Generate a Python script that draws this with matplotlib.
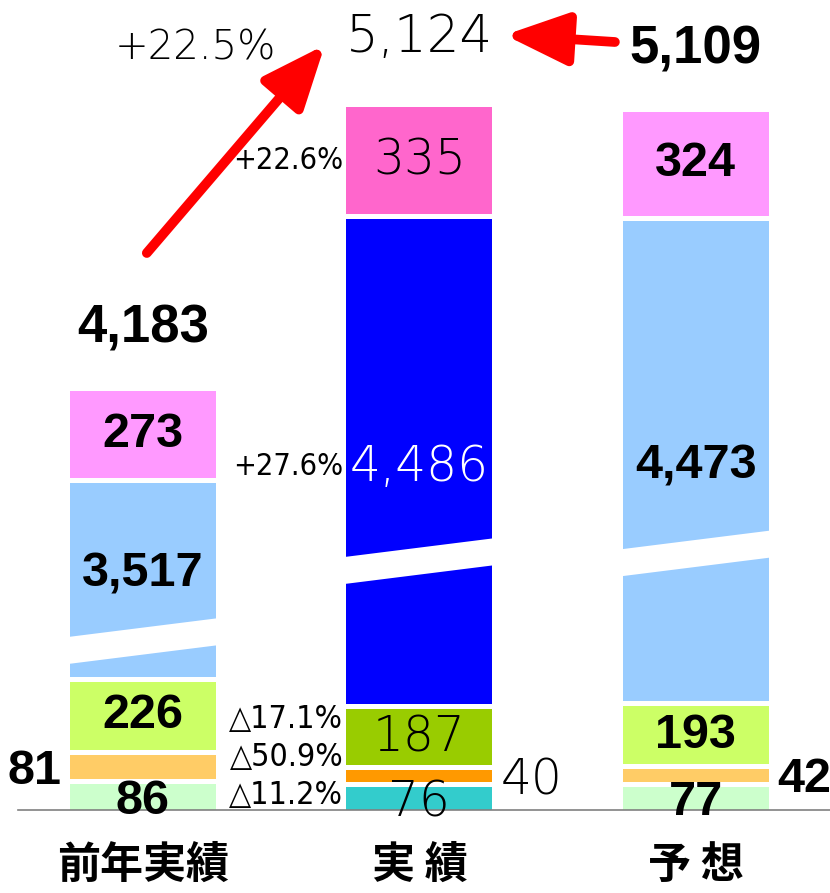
import matplotlib.pyplot as plt

# data
categories = ["前年実績", "実 績", "予 想"]
prev = [86, 81, 226, 3517, 273]
actual = [76, 40, 187, 4486, 335]
forecast = [77, 42, 193, 4473, 324]
totals = ["4,183", "5,124", "5,109"]
total_growth = "+22.5%"
seg_growth = ["△11.2%", "△50.9%", "△17.1%", "+27.6%", "+22.6%"]

colors_light = ["#CCFFCC", "#FFCC66", "#CCFF66", "#99CCFF", "#FF99FF"]
colors_actual = ["#33CCCC", "#FF9900", "#99CC00", "#0000FF", "#FF66CC"]

K = 0.3      # px per unit
K_TOP = 0.32
CUT = 2870   # hidden part of the broken segment
GAP = 5
W = 0.528

fig = plt.figure(figsize=(8.3, 8.93), dpi=100)
ax = fig.add_axes([0, 0, 1, 1])
ax.set_xlim(-0.517, 2.485)
ax.set_ylim(-83, 810)
ax.axis("off")

bold = dict(family=["Liberation Sans", "DejaVu Sans"], weight="bold", color="black")
thin = dict(family=["DejaVu Sans"], weight="light", color="black")
narrow = dict(family=["DejaVu Sans"], stretch="condensed", color="black")

brk_off = [36, 143, 148]
big_pos = [0.53, 0.49, 0.49]
tops = []
seg_centers = []
for i, vals in enumerate([prev, actual, forecast]):
    cols = colors_actual if i == 1 else colors_light
    bottom = 0
    centers = []
    for j, v in enumerate(vals):
        if j == 3:
            h = (v - CUT) * K
        elif j == 4:
            h = v * K_TOP
        else:
            h = v * K
        ax.bar(i, h, bottom=bottom, width=W, color=cols[j], zorder=2)
        if j == 3:
            yb = bottom + brk_off[i]
            xl, xr = i - W / 2 - 0.01, i + W / 2 + 0.01
            ax.fill([xl, xr, xr, xl], [yb - 23, yb - 4, yb + 23, yb + 4],
                    color="white", zorder=3, lw=0)
            centers.append(bottom + h * big_pos[i])
        else:
            centers.append(bottom + h / 2)
        bottom += h + GAP
    tops.append(bottom - GAP)
    seg_centers.append(centers)

    fmt = thin if i == 1 else bold
    fs = 35
    for j, v in enumerate(vals):
        txt = f"{v:,}"
        c = "white" if (i == 1 and j == 3) else "black"
        if j == 1:
            if i == 0:
                ax.text(i - W / 2 - 0.03, centers[j] - 4, txt, ha="right", va="center",
                        fontsize=fs, **fmt, zorder=5)
            else:
                ax.text(i + W / 2 + 0.03, centers[j] - 4, txt, ha="left", va="center",
                        fontsize=fs, **fmt, zorder=5)
        else:
            y = centers[j] - 4 if j == 0 else centers[j]
            kw = dict(fmt)
            kw["color"] = c
            ax.text(i, y, txt, ha="center", va="center", fontsize=fs, zorder=5, **kw)

    ax.text(i, -55, categories[i], ha="center", va="center", fontsize=31,
            family=["Noto Sans CJK JP", "DejaVu Sans"], weight="bold")

# totals
ax.text(0, tops[0] + 62, totals[0], ha="center", va="center", fontsize=38, **bold)
ax.text(1, 772, totals[1], ha="center", va="center", fontsize=37, **thin)
ax.text(2, 760, totals[2], ha="center", va="center", fontsize=38, **bold)
ax.text(0.188, 762, total_growth, ha="center", va="center", fontsize=29, **thin)

# growth rates next to the actual bar
gx = 0.725
for y, t in zip([15, 53, 90], seg_growth[:3]):
    ax.text(gx, y, t, ha="right", va="center", fontsize=23, **narrow)
ax.text(gx, seg_centers[1][3], seg_growth[3], ha="right", va="center", fontsize=22, **narrow)
ax.text(gx, seg_centers[1][4], seg_growth[4], ha="right", va="center", fontsize=22, **narrow)

# arrows
ap = dict(arrowstyle="-|>,head_length=1.2,head_width=0.5", mutation_scale=32,
          lw=7, color="red", shrinkA=0, shrinkB=0)
ax.annotate("", xy=(0.658, 765), xytext=(0.014, 557), arrowprops=ap, zorder=6)
ax.annotate("", xy=(1.309, 775), xytext=(1.707, 768), arrowprops=ap, zorder=6)

# baseline
ax.plot([-0.452, 2.485], [0, 0], color="#808080", lw=1.2, zorder=4)

fig.savefig("out.png", dpi=100)
